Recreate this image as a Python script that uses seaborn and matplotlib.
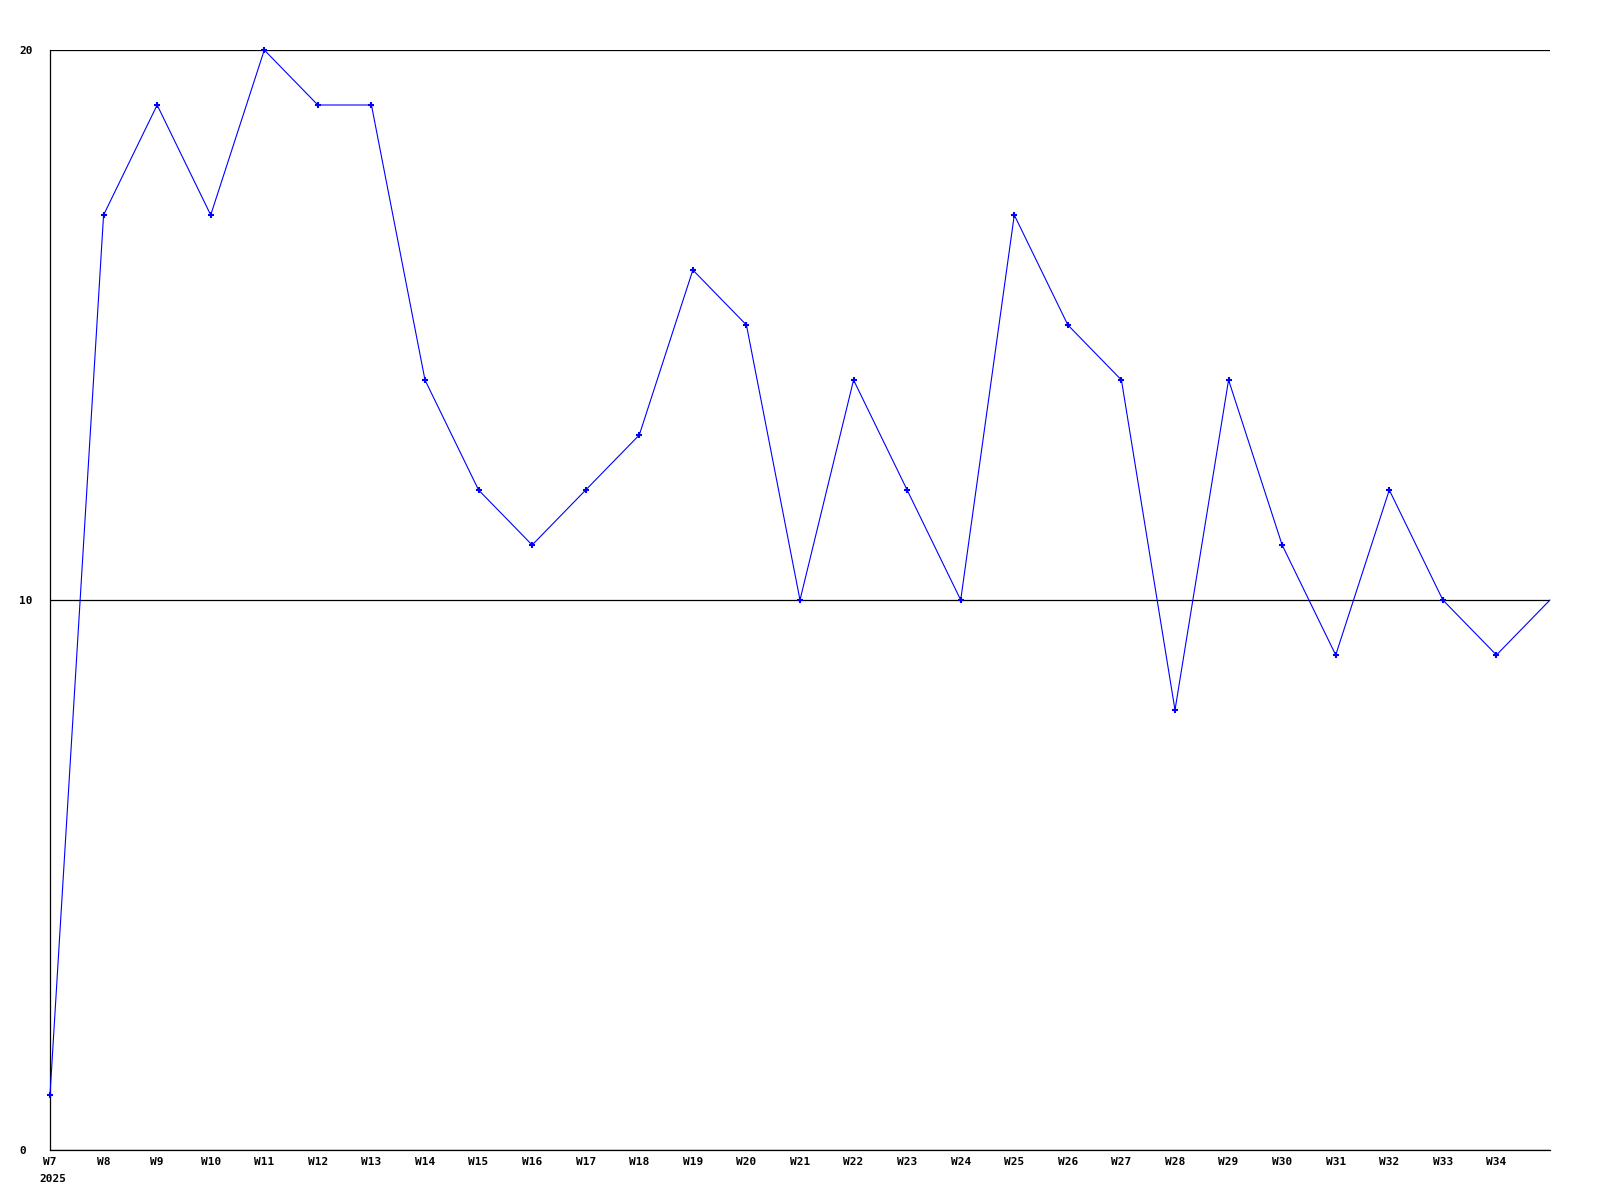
import matplotlib
matplotlib.use("Agg")
import matplotlib.pyplot as plt
import seaborn as sns
import pandas as pd
import numpy as np

weeks = ["W7", "W8", "W9", "W10", "W11", "W12", "W13", "W14", "W15", "W16",
         "W17", "W18", "W19", "W20", "W21", "W22", "W23", "W24", "W25", "W26",
         "W27", "W28", "W29", "W30", "W31", "W32", "W33", "W34", "W35"]
values = [1, 17, 19, 17, 20, 19, 19, 14, 12, 11,
          12, 13, 16, 15, 10, 14, 12, 10, 17, 15,
          14, 8, 14, 11, 9, 12, 10, 9, 10]
tick_labels = weeks[:-1]
year_label = "2025"
y_ticks = [0, 10, 20]

sns.set_style("white")
plt.rcParams['font.family'] = ['DejaVu Sans Mono', 'DejaVu Sans']
plt.rcParams['text.color'] = 'black'
plt.rcParams['xtick.color'] = 'black'
plt.rcParams['ytick.color'] = 'black'
plt.rcParams['xtick.labelcolor'] = 'black'
plt.rcParams['ytick.labelcolor'] = 'black'

df = pd.DataFrame({"x": np.arange(len(weeks)), "v": values})

fig = plt.figure(figsize=(16, 12), dpi=100)
ax = fig.add_axes([50/1600, 1 - 1150/1200, 1500/1600, 1100/1200])

sns.lineplot(data=df, x="x", y="v", ax=ax, color=(0, 0, 1), linewidth=0.8,
             marker="+", markersize=5, markeredgewidth=1.5,
             markeredgecolor=(0, 0, 1), markerfacecolor=(0, 0, 1),
             markevery=list(range(len(weeks) - 1)), clip_on=False, zorder=5)

ax.set_xlim(0, len(weeks) - 1)
ax.set_ylim(0, 20)
ax.set_xticks(np.arange(len(tick_labels)))
ax.set_xticklabels(tick_labels, fontsize=8, fontweight="bold")
ax.set_yticks(y_ticks)
ax.set_yticklabels([str(t) for t in y_ticks], fontsize=8, fontweight="bold")
for lab in ax.get_yticklabels():
    lab.set_horizontalalignment("left")
ax.tick_params(axis="y", length=0, pad=22.3)
ax.tick_params(axis="x", length=0, pad=5)
ax.set_xlabel("")
ax.set_ylabel("")

ax.grid(axis="y", color="black", linewidth=0.9)
ax.grid(axis="x", visible=False)
ax.set_axisbelow(True)
for s in ["top", "right"]:
    ax.spines[s].set_visible(False)
for s in ["left", "bottom"]:
    ax.spines[s].set_color("black")
    ax.spines[s].set_linewidth(0.9)

ax.annotate(year_label, xy=(0, 0), xycoords=("data", "axes fraction"),
            xytext=(-7.5, -17), textcoords="offset points",
            ha="left", va="top", fontsize=8, fontweight="bold", color="black")

fig.savefig("out.png", dpi=100)
